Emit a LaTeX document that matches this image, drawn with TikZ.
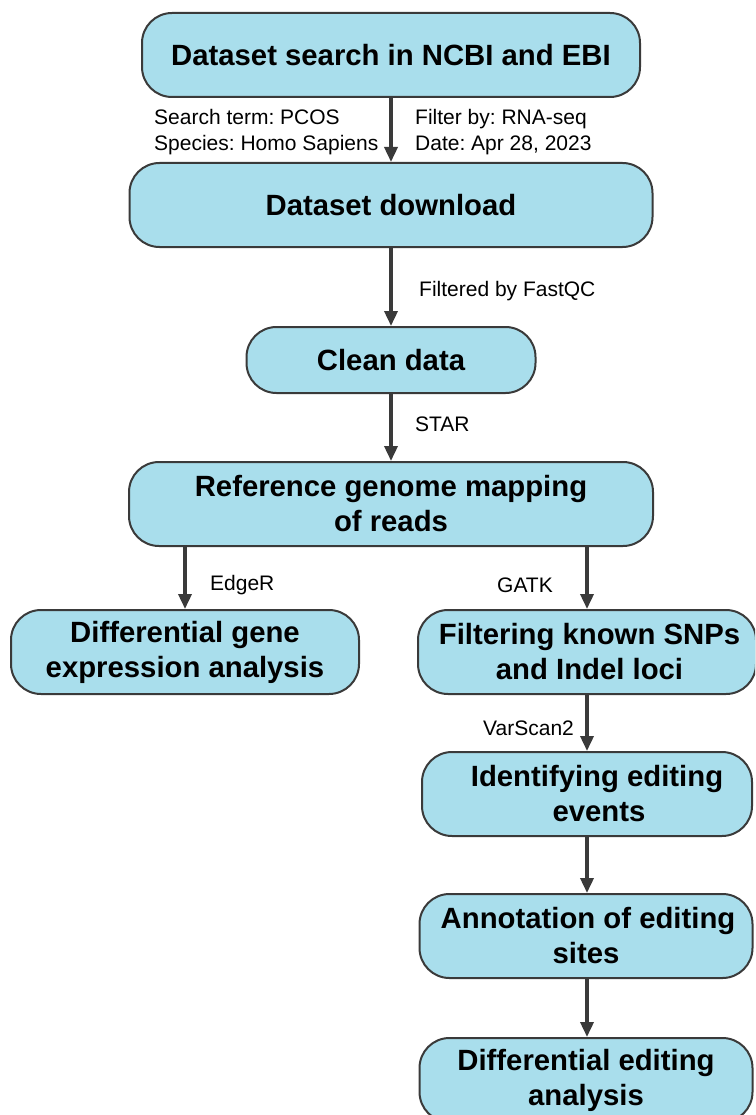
\documentclass[tikz,border=0pt]{standalone}
\usepackage{fontspec}
\setmainfont{Liberation Sans}
\usetikzlibrary{arrows.meta}
\definecolor{boxfill}{RGB}{169,222,236}
\definecolor{boxline}{RGB}{58,58,58}
\frenchspacing
\begin{document}
\begin{tikzpicture}[x=1pt,y=1pt,
  box/.style={draw=boxline, line width=2pt, fill=boxfill, rounded corners=30pt,
    align=center, inner sep=0pt, font=\bfseries\fontsize{29.3}{35}\selectfont},
  low/.style={execute at begin node={\rule{0pt}{34pt}}},
  lbl/.style={font=\fontsize{21}{26}\selectfont, inner sep=0pt, align=left, anchor=west},
  arr/.style={draw=boxline, line width=3.5pt, -{Triangle[length=15pt,width=13pt]}}]
\clip (0,0) rectangle (755,-1115);
\useasboundingbox (0,0) rectangle (755,-1115);
\node[box, minimum width=498pt, minimum height=84pt] (n1) at (391,-55) {Dataset search in NCBI and EBI};
\node[box, minimum width=523pt, minimum height=84pt] (n2) at (391,-205) {Dataset download};
\node[box, minimum width=289pt, minimum height=66pt] (n3) at (391,-360) {Clean data};
\node[box, minimum width=524pt, minimum height=84pt] (n4) at (391,-504) {Reference genome mapping\\of reads};
\node[box, low, minimum width=348pt, minimum height=84pt] (n5) at (185,-652) {Differential gene\\expression analysis};
\node[box, low, minimum width=338pt, minimum height=84pt] (n6) at (587,-652) {\hspace*{5pt}Filtering known SNPs\\\hspace*{5pt}and Indel loci};
\node[box, low, minimum width=330pt, minimum height=84pt] (n7) at (587,-794) {\hspace*{20pt}Identifying editing\\\hspace*{24pt}events};
\node[box, low, minimum width=333pt, minimum height=84pt] (n8) at (586,-936) {\hspace*{4pt}Annotation of editing\\sites};
\node[box, low, minimum width=333pt, minimum height=84pt] (n9) at (586,-1080) {Differential editing\\analysis};

\draw[arr] (n1.south) -- (n2.north);
\draw[arr] (n2.south) -- (n3.north);
\draw[arr] (n3.south) -- (n4.north);
\draw[arr] (n4.south -| n5.north) -- (n5.north);
\draw[arr] (n4.south -| n6.north) -- (n6.north);
\draw[arr] (n6.south) -- (n7.north);
\draw[arr] (n7.south -| n6.south) -- (n8.north -| n6.south);
\draw[arr] (n8.south -| n6.south) -- (n9.north -| n6.south);

\node[lbl] (l1) at (154,-132) {Search term: PCOS\\Species: Homo Sapiens};
\node[lbl] (l2) at (415,-132) {Filter by: RNA-seq\\Date: Apr 28, 2023};
\node[lbl] (l3) at (419,-291) {Filtered by FastQC};
\node[lbl] (l4) at (415,-424) {STAR};
\node[lbl] (l5) at (210,-585) {EdgeR};
\node[lbl] (l6) at (497,-585) {GATK};
\node[lbl] (l7) at (483,-728) {VarScan2};
\end{tikzpicture}
\end{document}
